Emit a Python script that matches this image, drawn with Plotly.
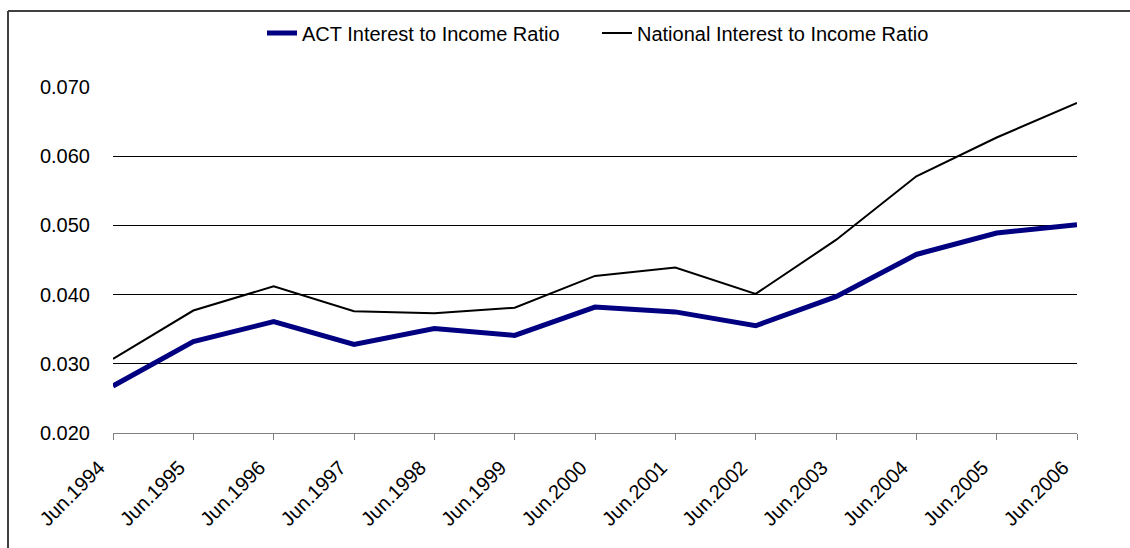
import plotly.graph_objects as go

# Financial years (June) and interest-to-income ratios
periods = ["Jun.1994", "Jun.1995", "Jun.1996", "Jun.1997", "Jun.1998", "Jun.1999",
           "Jun.2000", "Jun.2001", "Jun.2002", "Jun.2003", "Jun.2004", "Jun.2005", "Jun.2006"]
act_ratio = [0.0268, 0.0332, 0.0361, 0.0328, 0.0351, 0.0341,
             0.0382, 0.0375, 0.0355, 0.0397, 0.0458, 0.0489, 0.0501]
national_ratio = [0.0307, 0.0377, 0.0412, 0.0376, 0.0373, 0.0381,
                  0.0427, 0.0439, 0.0401, 0.0479, 0.0571, 0.0627, 0.0677]
y_ticks = [0.02, 0.03, 0.04, 0.05, 0.06, 0.07]

W, H = 1130, 548
L, R, T, B = 113, 53, 87, 115
pw, ph = W - L - R, H - T - B

x_idx = list(range(len(periods)))

fig = go.Figure()
fig.add_trace(go.Scatter(
    x=x_idx, y=act_ratio, mode="lines",
    name="ACT Interest to Income Ratio",
    line=dict(color="#000080", width=5),
))
fig.add_trace(go.Scatter(
    x=x_idx, y=national_ratio, mode="lines",
    name="National Interest to Income Ratio",
    line=dict(color="#000000", width=2),
))

# pixel -> paper conversion helpers
def px_x(v):
    return (v - L) / pw

def px_y(v):
    return (H - B - v) / ph

# outer frame of the chart (top and left edges visible)
frame = dict(color="#404040", width=2)
fig.add_shape(type="line", xref="paper", yref="paper",
              x0=px_x(8), x1=px_x(1140), y0=px_y(11), y1=px_y(11), line=frame)
fig.add_shape(type="line", xref="paper", yref="paper",
              x0=px_x(8), x1=px_x(8), y0=px_y(11), y1=px_y(560), line=frame)

font = dict(family="Liberation Sans, Arial, sans-serif", size=20, color="#000000")

fig.update_layout(
    width=W, height=H,
    margin=dict(l=L, r=R, t=T, b=B),
    paper_bgcolor="white", plot_bgcolor="white",
    font=font,
    showlegend=True,
    legend=dict(orientation="h", x=px_x(262), xanchor="left", y=px_y(33), yanchor="middle",
                font=font, bgcolor="rgba(0,0,0,0)", itemwidth=30,
                entrywidth=290, entrywidthmode="pixels"),
    xaxis=dict(
        range=[0, len(periods) - 1],
        tickmode="array", tickvals=x_idx, ticktext=periods,
        tickangle=-45, ticks="outside", ticklen=6, tickcolor="#808080",
        showline=True, linecolor="#808080", linewidth=1,
        showgrid=False, zeroline=False, tickfont=font,
        ticklabelstandoff=8, ticklabelshift=-14,
    ),
    yaxis=dict(
        range=[0.02, 0.07],
        tickmode="array", tickvals=y_ticks, tickformat=".3f",
        showgrid=True, gridcolor="#000000", gridwidth=1,
        showline=False, zeroline=False, ticks="",
        ticklabelstandoff=22, tickfont=font,
    ),
)

fig.write_html("out.html")
